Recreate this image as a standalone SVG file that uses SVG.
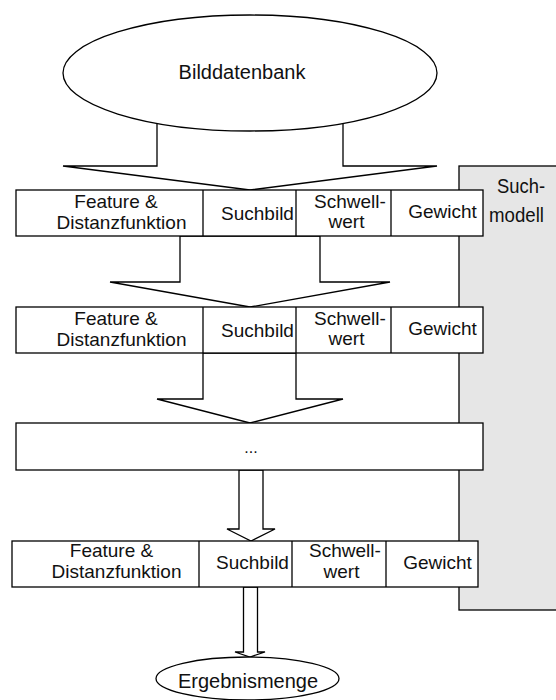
<svg xmlns="http://www.w3.org/2000/svg" width="556" height="700" viewBox="0 0 556 700">
  <style>
    .ln { stroke: #000; stroke-width: 1.3; fill: #fff; stroke-linejoin: miter; }
    .panel { stroke: #000; stroke-width: 1.3; fill: #e6e6e6; }
    text { font-family: "Liberation Sans", Arial, sans-serif; fill: #111; text-anchor: middle; }
    .t { font-size: 19px; }
    .big { font-size: 20px; }
    .side { font-size: 21px; }
    .dots { font-size: 16px; }
  </style>

  <!-- search model panel on the right -->
  <g id="suchmodell">
    <rect class="panel" x="459" y="166" width="110" height="444"/>
    <text class="side" x="521" y="193" textLength="48" lengthAdjust="spacingAndGlyphs">Such-</text>
    <text class="side" x="516.5" y="222" textLength="55" lengthAdjust="spacingAndGlyphs">modell</text>
  </g>

  <!-- block arrows between the stages -->
  <g id="connectors">
    <polygon class="ln" points="157,110 157,166 63,166 250,190 437,166 343,166 343,110"/>
    <polygon class="ln" points="180,236 180,282 110,282 250,307 390,282 320,282 320,236"/>
    <polygon class="ln" points="203,353 203,399 157,399 250,423 343,399 296,399 296,353"/>
    <polygon class="ln" points="239,470 239,529 227,529 251,541 275,529 263,529 263,470"/>
    <polygon class="ln" points="243.5,587 243.5,652 235,652 250,657 265,652 257.5,652 257.5,587"/>
  </g>

  <!-- image database -->
  <g id="bilddatenbank">
    <ellipse class="ln" cx="250" cy="73" rx="187" ry="58"/>
    <text class="big" x="242" y="79">Bilddatenbank</text>
  </g>

  <!-- first filter stage -->
  <g id="stufe1">
    <rect class="ln" x="16" y="190" width="467" height="46"/>
    <line class="ln" x1="203" y1="190" x2="203" y2="236"/>
    <line class="ln" x1="296" y1="190" x2="296" y2="236"/>
    <line class="ln" x1="391" y1="190" x2="391" y2="236"/>
    <text class="t" x="116" y="208">Feature &amp;</text>
    <text class="t" x="121.5" y="229">Distanzfunktion</text>
    <text class="t" x="257.5" y="220">Suchbild</text>
    <text class="t" x="350" y="207.5">Schwell-</text>
    <text class="t" x="346.5" y="228">wert</text>
    <text class="t" x="442.5" y="218">Gewicht</text>
  </g>

  <!-- second filter stage -->
  <g id="stufe2">
    <rect class="ln" x="16" y="307" width="467" height="46"/>
    <line class="ln" x1="203" y1="307" x2="203" y2="353"/>
    <line class="ln" x1="296" y1="307" x2="296" y2="353"/>
    <line class="ln" x1="391" y1="307" x2="391" y2="353"/>
    <text class="t" x="116" y="325">Feature &amp;</text>
    <text class="t" x="121.5" y="346">Distanzfunktion</text>
    <text class="t" x="257.5" y="337">Suchbild</text>
    <text class="t" x="350" y="324.5">Schwell-</text>
    <text class="t" x="346.5" y="345">wert</text>
    <text class="t" x="442.5" y="335">Gewicht</text>
  </g>

  <!-- further stages -->
  <g id="weitere">
    <rect class="ln" x="16" y="423" width="467" height="47"/>
    <text class="dots" x="251" y="453">...</text>
  </g>

  <!-- last filter stage -->
  <g id="stufe3">
    <rect class="ln" x="12" y="541" width="466" height="46"/>
    <line class="ln" x1="199" y1="541" x2="199" y2="587"/>
    <line class="ln" x1="292" y1="541" x2="292" y2="587"/>
    <line class="ln" x1="386" y1="541" x2="386" y2="587"/>
    <text class="t" x="111.5" y="557">Feature &amp;</text>
    <text class="t" x="116.5" y="578">Distanzfunktion</text>
    <text class="t" x="252.5" y="569">Suchbild</text>
    <text class="t" x="345" y="557">Schwell-</text>
    <text class="t" x="341.5" y="578">wert</text>
    <text class="t" x="437.5" y="569">Gewicht</text>
  </g>

  <!-- result set -->
  <g id="ergebnismenge">
    <ellipse class="ln" cx="247.5" cy="678.5" rx="91.5" ry="21.5"/>
    <text class="big" x="248" y="688">Ergebnismenge</text>
  </g>
</svg>
